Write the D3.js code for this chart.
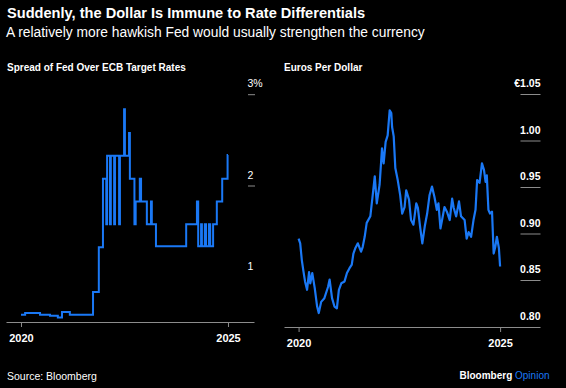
<!DOCTYPE html>
<html>
<head>
<meta charset="utf-8">
<script src="https://cdn.jsdelivr.net/npm/d3@7"></script>
<style>
  body { margin: 0; background: #000; }
  text { font-family: "Liberation Sans", Arial, sans-serif; fill: #fff; }
</style>
</head>
<body>
<div id="chart"></div>
<script>
// Data

var yearTicks = [2020, 2025];
var spreadTicks = [1, 2, 3];
var euroTicks = [0.80, 0.85, 0.90, 0.95, 1.00, 1.05];

// Fed minus ECB target rate, percentage points (step series)
var spreadYears = [2020.00, 2020.10, 2020.46, 2020.70, 2020.89, 2020.99, 2021.18, 2021.74, 2021.88, 2021.98,
  2022.06, 2022.08, 2022.15, 2022.17, 2022.25, 2022.27, 2022.37, 2022.39, 2022.49, 2022.51,
  2022.61, 2022.63, 2022.74, 2022.77, 2022.87, 2022.90, 2023.04, 2023.14, 2023.16, 2023.26,
  2023.99, 2024.25, 2024.28, 2024.35, 2024.37, 2024.44, 2024.47, 2024.54, 2024.57, 2024.64,
  2024.73, 2024.86, 2024.99, 2025.00];
var spreadValues = [0.59, 0.61, 0.59, 0.58, 0.56, 0.62, 0.59, 0.84, 1.33, 2.08,
  1.58, 2.33, 1.58, 2.33, 1.58, 2.33, 1.58, 2.33, 2.84, 2.33,
  2.58, 2.08, 1.58, 1.83, 2.08, 1.83, 1.58, 1.83, 1.58, 1.34,
  1.58, 1.83, 1.34, 1.58, 1.34, 1.58, 1.34, 1.58, 1.34, 1.58,
  1.83, 2.08, 2.34, 2.34];

// Euros per dollar
var euroYears = [2020.00, 2020.04, 2020.08, 2020.12, 2020.16, 2020.21, 2020.26, 2020.29, 2020.34, 2020.40,
  2020.46, 2020.50, 2020.56, 2020.64, 2020.73, 2020.77, 2020.83, 2020.89, 2020.95, 2021.00,
  2021.06, 2021.14, 2021.20, 2021.26, 2021.32, 2021.36, 2021.41, 2021.47, 2021.55, 2021.59,
  2021.64, 2021.69, 2021.78, 2021.84, 2021.89, 2021.94, 2022.01, 2022.07, 2022.11, 2022.16,
  2022.21, 2022.26, 2022.30, 2022.32, 2022.36, 2022.40, 2022.46, 2022.52, 2022.57, 2022.63,
  2022.67, 2022.74, 2022.79, 2022.85, 2022.92, 2022.96, 2023.02, 2023.07, 2023.13, 2023.19,
  2023.25, 2023.31, 2023.37, 2023.43, 2023.47, 2023.52, 2023.56, 2023.62, 2023.68, 2023.75,
  2023.81, 2023.85, 2023.91, 2023.98, 2024.03, 2024.12, 2024.17, 2024.22, 2024.28, 2024.34,
  2024.39, 2024.43, 2024.49, 2024.55, 2024.60, 2024.64, 2024.67, 2024.71, 2024.75, 2024.80,
  2024.84, 2024.88, 2024.92, 2024.97, 2025.00];
var euroValues = [0.895, 0.890, 0.872, 0.860, 0.849, 0.840, 0.859, 0.847, 0.858, 0.842,
  0.822, 0.815, 0.827, 0.831, 0.843, 0.851, 0.831, 0.822, 0.820, 0.840,
  0.847, 0.849, 0.858, 0.863, 0.867, 0.879, 0.885, 0.890, 0.881, 0.886,
  0.897, 0.912, 0.919, 0.942, 0.962, 0.933, 0.953, 0.992, 0.976, 0.999,
  1.006, 1.033, 1.030, 1.015, 1.005, 0.971, 0.958, 0.942, 0.922, 0.929,
  0.947, 0.937, 0.915, 0.910, 0.933, 0.928, 0.906, 0.890, 0.908, 0.922,
  0.942, 0.951, 0.940, 0.926, 0.933, 0.906, 0.915, 0.929, 0.924, 0.915,
  0.938, 0.928, 0.919, 0.935, 0.919, 0.915, 0.895, 0.902, 0.897, 0.915,
  0.926, 0.958, 0.955, 0.976, 0.969, 0.956, 0.963, 0.926, 0.922, 0.924,
  0.879, 0.886, 0.897, 0.885, 0.865];

var spreadData = spreadYears.map(function(d, i) { return {year: d, value: spreadValues[i]}; });
var euroData = euroYears.map(function(d, i) { return {year: d, value: euroValues[i]}; });

var width = 566, height = 388;
var blue = "#1a78f5";

var svg = d3.select("#chart")
  .append("svg")
  .attr("width", width)
  .attr("height", height);

svg.append("rect").attr("width", width).attr("height", height).attr("fill", "#000");

// Titles

svg.append("text")
  .attr("x", 7).attr("y", 18)
  .attr("font-size", "14.6px")
  .attr("font-weight", "bold")
  .text("Suddenly, the Dollar Is Immune to Rate Differentials");

svg.append("text")
  .attr("x", 6).attr("y", 36.5)
  .attr("font-size", "13.8px")
  .text("A relatively more hawkish Fed would usually strengthen the currency");

svg.append("text")
  .attr("x", 7).attr("y", 71)
  .attr("font-size", "10px")
  .attr("font-weight", "bold")
  .text("Spread of Fed Over ECB Target Rates");

svg.append("text")
  .attr("x", 284).attr("y", 71)
  .attr("font-size", "10px")
  .attr("font-weight", "bold")
  .text("Euros Per Dollar");

// Scales

var x1 = d3.scaleLinear().domain([2019.638, 2025.628]).range([6, 254]);
var y1 = d3.scaleLinear().domain([0, 3]).range([368.6, 94.7]);

var x2 = d3.scaleLinear().domain([2019.638, 2025.99]).range([284, 540]);
var y2 = d3.scaleLinear().domain([0.80, 1.05]).range([327, 94.5]);

// X axes

function drawXAxis(scale, yPos) {
  var g = svg.append("g")
    .attr("transform", `translate(0, ${yPos})`)
    .call(d3.axisBottom(scale)
      .tickValues(yearTicks)
      .tickFormat(d3.format("d"))
      .tickSize(5)
      .tickSizeOuter(0)
      .tickPadding(7));
  g.select(".domain").attr("stroke", "#8c8c8c");
  g.selectAll(".tick line").attr("stroke", "#8c8c8c");
  g.selectAll(".tick text")
    .attr("fill", "#fff")
    .attr("font-size", "11px")
    .attr("font-weight", "bold")
    .attr("font-family", "'Liberation Sans', Arial, sans-serif");
}

drawXAxis(x1, 322);
drawXAxis(x2, 327);

// Y labels, left panel

svg.selectAll(".spreadTick")
  .data(spreadTicks)
  .enter().append("text")
  .attr("class", "spreadTick")
  .attr("x", 247.5)
  .attr("y", d => y1(d) - 7.4)
  .attr("font-size", "10.5px")
  .text(d => d === 3 ? "3%" : d);

svg.selectAll(".spreadDash")
  .data(spreadTicks.filter(d => d > 1))
  .enter().append("line")
  .attr("class", "spreadDash")
  .attr("x1", 248).attr("x2", 255)
  .attr("y1", d => y1(d)).attr("y2", d => y1(d))
  .attr("stroke", "#8c8c8c");

// Y labels, right panel

svg.selectAll(".euroTick")
  .data(euroTicks)
  .enter().append("text")
  .attr("class", "euroTick")
  .attr("x", 540.5)
  .attr("y", d => y2(d) - 7.5)
  .attr("text-anchor", "end")
  .attr("font-size", "10.5px")
  .attr("font-weight", "bold")
  .text(d => (d === 1.05 ? "€" : "") + d3.format(".2f")(d));

svg.selectAll(".euroDash")
  .data(euroTicks.filter(d => d > 0.80))
  .enter().append("line")
  .attr("class", "euroDash")
  .attr("x1", 520.5).attr("x2", 540.5)
  .attr("y1", d => y2(d)).attr("y2", d => y2(d))
  .attr("stroke", "#8c8c8c");

// Lines

var spreadLine = d3.line()
  .x(d => x1(d.year))
  .y(d => y1(d.value))
  .curve(d3.curveStepAfter);

svg.append("path")
  .datum(spreadData)
  .attr("d", spreadLine)
  .attr("fill", "none")
  .attr("stroke", blue)
  .attr("stroke-width", 2);

var euroLine = d3.line()
  .x(d => x2(d.year))
  .y(d => y2(d.value));

svg.append("path")
  .datum(euroData)
  .attr("d", euroLine)
  .attr("fill", "none")
  .attr("stroke", blue)
  .attr("stroke-width", 2.2)
  .attr("stroke-linejoin", "round");

// Footer

svg.append("text")
  .attr("x", 7).attr("y", 380)
  .attr("font-size", "10.5px")
  .text("Source: Bloomberg");

var brand = svg.append("text")
  .attr("x", 549.5).attr("y", 378.5)
  .attr("text-anchor", "end")
  .attr("font-size", "10px");
brand.append("tspan").attr("font-weight", "bold").text("Bloomberg ");
brand.append("tspan").attr("fill", blue).text("Opinion");
</script>
</body>
</html>
